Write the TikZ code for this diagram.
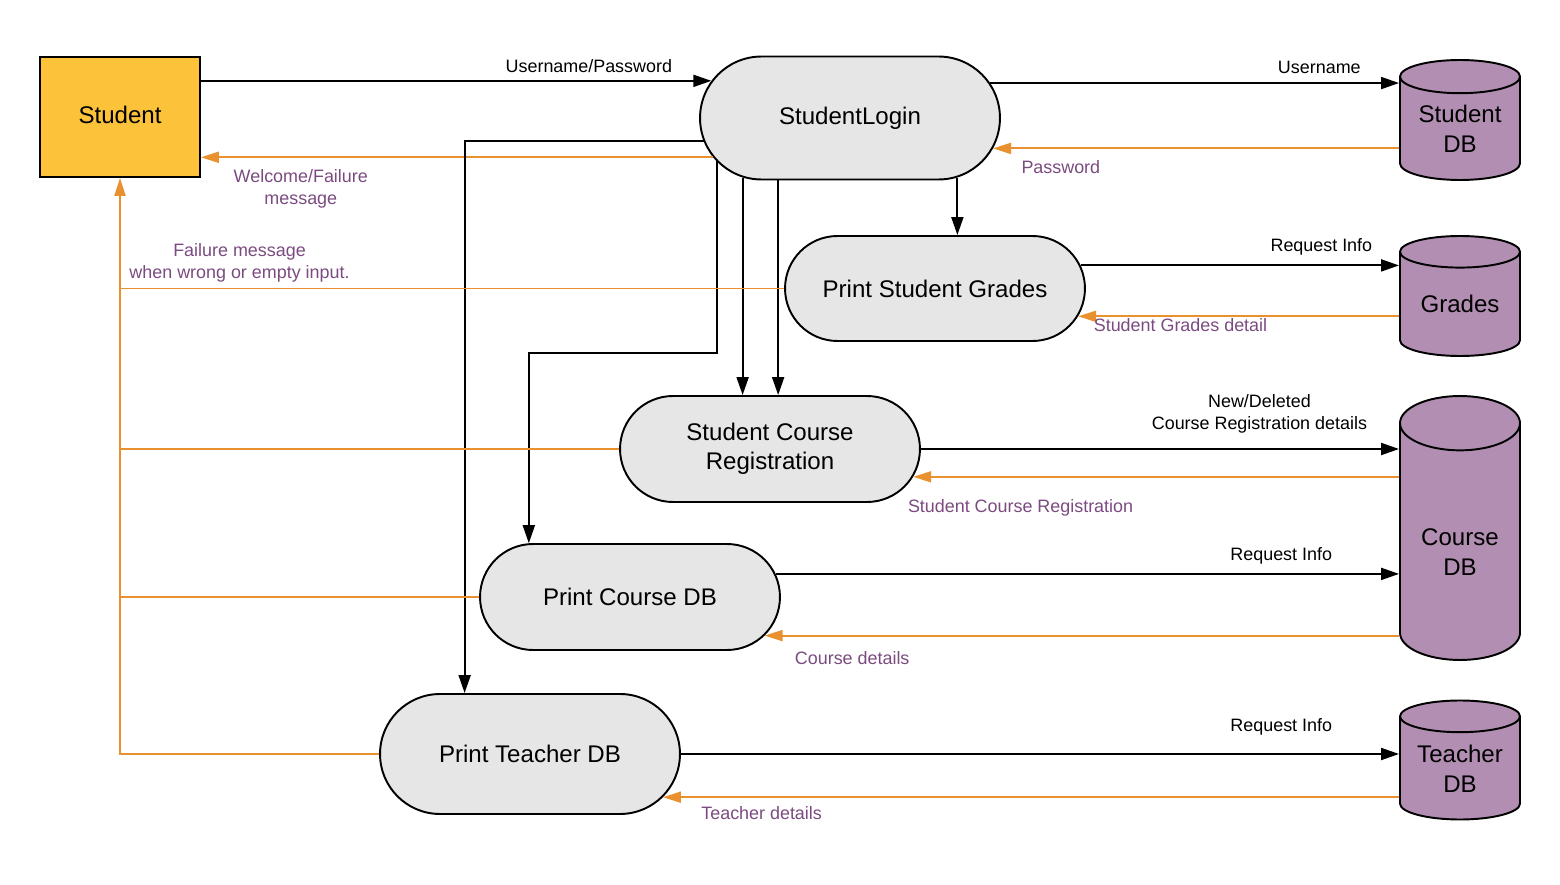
\documentclass[tikz,border=0pt]{standalone}
\usepackage{fontspec}
\setmainfont{Liberation Sans}
\usetikzlibrary{arrows.meta, shapes.misc, shapes.geometric}

\definecolor{boxyellow}{HTML}{FBC23A}
\definecolor{procgrey}{HTML}{E6E6E6}
\definecolor{dbpurple}{HTML}{B28FB2}
\definecolor{replyorange}{HTML}{E8912E}
\definecolor{labelpurple}{HTML}{7B4A80}

\begin{document}
\begin{tikzpicture}[x=0.02cm, y=-0.02cm,
    entity/.style={draw, line width=1.1pt, fill=boxyellow, minimum width=3.2cm, minimum height=2.4cm, inner sep=0pt, text depth=0.25em, font=\fontsize{13.7pt}{16.5pt}\selectfont},
    process/.style={draw, line width=1.1pt, fill=procgrey, rounded rectangle, minimum width=6cm, inner sep=0pt, align=center, font=\fontsize{13.7pt}{16.5pt}\selectfont},
    store/.style={draw, line width=1.1pt, fill=dbpurple, cylinder, shape border rotate=90, minimum width=2.4cm, inner sep=0pt, anchor=shape center, align=center, font=\fontsize{13.7pt}{17pt}\selectfont},
    flow/.style={line width=1.1pt, -{Triangle[length=0.36cm, width=0.24cm]}},
    reply/.style={line width=1.1pt, draw=replyorange, -{Triangle[length=0.36cm, width=0.22cm]}},
    replyline/.style={line width=1.1pt, draw=replyorange},
    lbl/.style={inner sep=0pt, align=center, font=\fontsize{10.2pt}{12.5pt}\selectfont},
    msg/.style={lbl, text=labelpurple}]
  \useasboundingbox (0,0) rectangle (1560,885);

  % actors and processes
  \node[entity] (student) at (120,117) {Student};
  \node[process, minimum height=2.46cm] (login) at (850,118) {StudentLogin};
  \node[process, minimum height=2.1cm] (psg) at (935,288.5) {Print Student Grades};
  \node[process, minimum height=2.12cm] (scr) at (770,449) {Student Course\\Registration};
  \node[process, minimum height=2.12cm] (pcd) at (630,597) {Print Course DB};
  \node[process, minimum height=2.4cm] (ptd) at (530,754) {Print Teacher DB};

  % data stores
  \node[store, minimum height=2.4cm, aspect=0.4] (sdb) at (1460,120) {Student\\DB};
  \node[store, minimum height=2.4cm, aspect=0.4] (grades) at (1460,296) {Grades};
  \node[store, minimum height=5.28cm, aspect=0.7] (cdb) at (1460,528) {\rule{0pt}{21pt}Course\\DB};
  \node[store, minimum height=2.38cm, aspect=0.37] (tdb) at (1460,760) {Teacher\\DB};

  % login
  \draw[flow] (student.east |- login.165) -- (login.165) node[lbl, pos=0.76, above=4pt] {Username/Password};
  \draw[reply] (login.196) -- (student.east |- login.196) node[msg, pos=0.805, below=6.5pt] {Welcome/Failure\\message};
  \draw[flow] (login.14) -- (login.14 -| sdb.west) node[lbl, pos=0.805, above=5pt] {Username};
  \draw[reply] (login.-12 -| sdb.west) -- (login.-12) node[msg, pos=0.833, below=6.5pt] {Password};

  % from login to the other processes
  \draw[flow] (login.-29.4) -- (login.-29.4 |- psg.north);
  \draw[flow] (login.209.4) -- (login.209.4 |- scr.north);
  \draw[flow] (login.221.3) -- (login.221.3 |- scr.north);
  \draw[flow] (login.198.2) -- ++(0,192) -| (pcd.152.1);
  \draw[flow] (login.189.4) -| (ptd.137.3);

  % processes and data stores
  \draw[flow] (psg.9.5) -- (psg.9.5 -| grades.west) node[lbl, pos=0.756, above=5.3pt] {Request Info};
  \draw[reply] (psg.-11.2 -| grades.west) -- (psg.-11.2) node[msg, pos=0.681, below=0.5pt] {Student Grades detail};
  \draw[flow] (scr.east) -- (scr.east -| cdb.west) node[lbl, pos=0.708, above=8.5pt] {New/Deleted\\Course Registration details};
  \draw[reply] (scr.-11.2 -| cdb.west) -- (scr.-11.2) node[msg, pos=0.779, below=12.5pt] {Student Course Registration};
  \draw[flow] (pcd.9.4) -- (pcd.9.4 -| cdb.west) node[lbl, pos=0.811, above=5pt] {Request Info};
  \draw[reply] (pcd.-16.9 -| cdb.west) -- (pcd.-16.9) node[msg, pos=0.862, below=8.5pt] {Course details};
  \draw[flow] (ptd.east) -- (ptd.east -| tdb.west) node[lbl, pos=0.836, above=10pt] {Request Info};
  \draw[reply] (ptd.-18.6 -| tdb.west) -- (ptd.-18.6) node[msg, pos=0.866, below=5pt] {Teacher details};

  % failure messages back to the student
  \draw[replyline] (psg.west) -- (student.south |- psg.west) node[msg, pos=0.82, above=3pt] {Failure message\\when wrong or empty input.};
  \draw[replyline] (scr.west) -- (student.south |- scr.west);
  \draw[replyline] (pcd.west) -- (student.south |- pcd.west);
  \draw[reply] (ptd.west) -| (student.south);
\end{tikzpicture}
\end{document}
